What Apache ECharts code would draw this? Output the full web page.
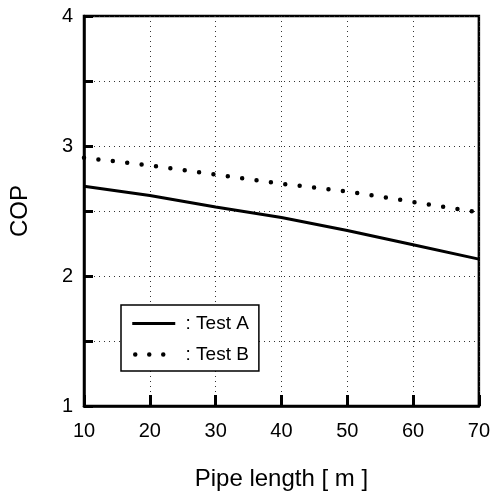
<!DOCTYPE html>
<html>
<head>
<meta charset="utf-8">
<script src="https://cdn.jsdelivr.net/npm/echarts@6/dist/echarts.min.js"></script>
<style>html,body{margin:0;padding:0;background:#fff;}#c{width:493px;height:496px;}</style>
</head>
<body>
<div id="c"></div>
<script>
var pipeLength = [10, 20, 30, 40, 50, 60, 70];
var testA = [2.69, 2.62, 2.53, 2.45, 2.35, 2.24, 2.13];
var testB = [2.91, 2.85, 2.78, 2.71, 2.65, 2.57, 2.49];
var seriesNames = ['Test A', 'Test B'];
var xName = 'Pipe length [ m ]';
var yName = 'COP';
var yTickLabels = ['1', '2', '3', '4'];

var FONT = 'Liberation Sans, Arial, sans-serif';
var chart = echarts.init(document.getElementById('c'));
function pairs(xs, ys) { return xs.map(function (x, i) { return [x, ys[i]]; }); }
chart.setOption({
  animation: false,
  backgroundColor: '#fff',
  grid: { left: 84, right: 14, top: 16, bottom: 85, show: true, borderColor: '#000', borderWidth: 2.5, backgroundColor: 'transparent' },
  legend: {
    orient: 'vertical', left: 121, top: 305,
    itemWidth: 43, itemHeight: 14, itemGap: 12,
    padding: [9, 10, 7, 9],
    borderColor: '#000', borderWidth: 1.5, backgroundColor: '#fff',
    formatter: ' : {name}',
    itemStyle: { opacity: 0, borderWidth: 0 },
    textStyle: { fontFamily: FONT, fontSize: 19, color: '#000' },
    data: [
      { name: seriesNames[0], lineStyle: { color: '#000', width: 3 } },
      { name: seriesNames[1], lineStyle: { color: '#000', width: 4.5, type: [0, 14], dashOffset: -3, cap: 'round' } }
    ]
  },
  xAxis: {
    type: 'value', min: 10, max: 70, interval: 10,
    name: xName, nameLocation: 'middle', nameGap: 61,
    nameTextStyle: { fontFamily: FONT, fontSize: 24, color: '#000' },
    axisLine: { lineStyle: { color: '#000', width: 2.5 } },
    axisTick: { inside: true, length: 11, lineStyle: { color: '#000', width: 3 } },
    axisLabel: { margin: 15, fontFamily: FONT, fontSize: 20, color: '#000' },
    splitLine: { show: true, lineStyle: { color: '#333', width: 1, type: [1, 4] } }
  },
  yAxis: {
    type: 'value', min: 1, max: 4, interval: 0.5,
    name: yName, nameLocation: 'middle', nameGap: 52,
    nameTextStyle: { fontFamily: FONT, fontSize: 24, color: '#000' },
    axisLine: { lineStyle: { color: '#000', width: 2.5 } },
    axisTick: { inside: true, length: 9, lineStyle: { color: '#000', width: 3 } },
    axisLabel: { margin: 11, fontFamily: FONT, fontSize: 20, color: '#000',
      formatter: function (v) { var s = String(v); return yTickLabels.indexOf(s) >= 0 ? s : ''; } },
    splitLine: { show: true, lineStyle: { color: '#333', width: 1, type: [1, 4] } }
  },
  series: [
    { name: seriesNames[0], type: 'line', symbol: 'none', data: pairs(pipeLength, testA),
      lineStyle: { color: '#000', width: 3 }, itemStyle: { color: '#000' } },
    { name: seriesNames[1], type: 'line', symbol: 'none', data: pairs(pipeLength, testB),
      lineStyle: { color: '#000', width: 4.5, type: [0, 14.5], cap: 'round' }, itemStyle: { color: '#000' } }
  ]
});
</script>
</body>
</html>
